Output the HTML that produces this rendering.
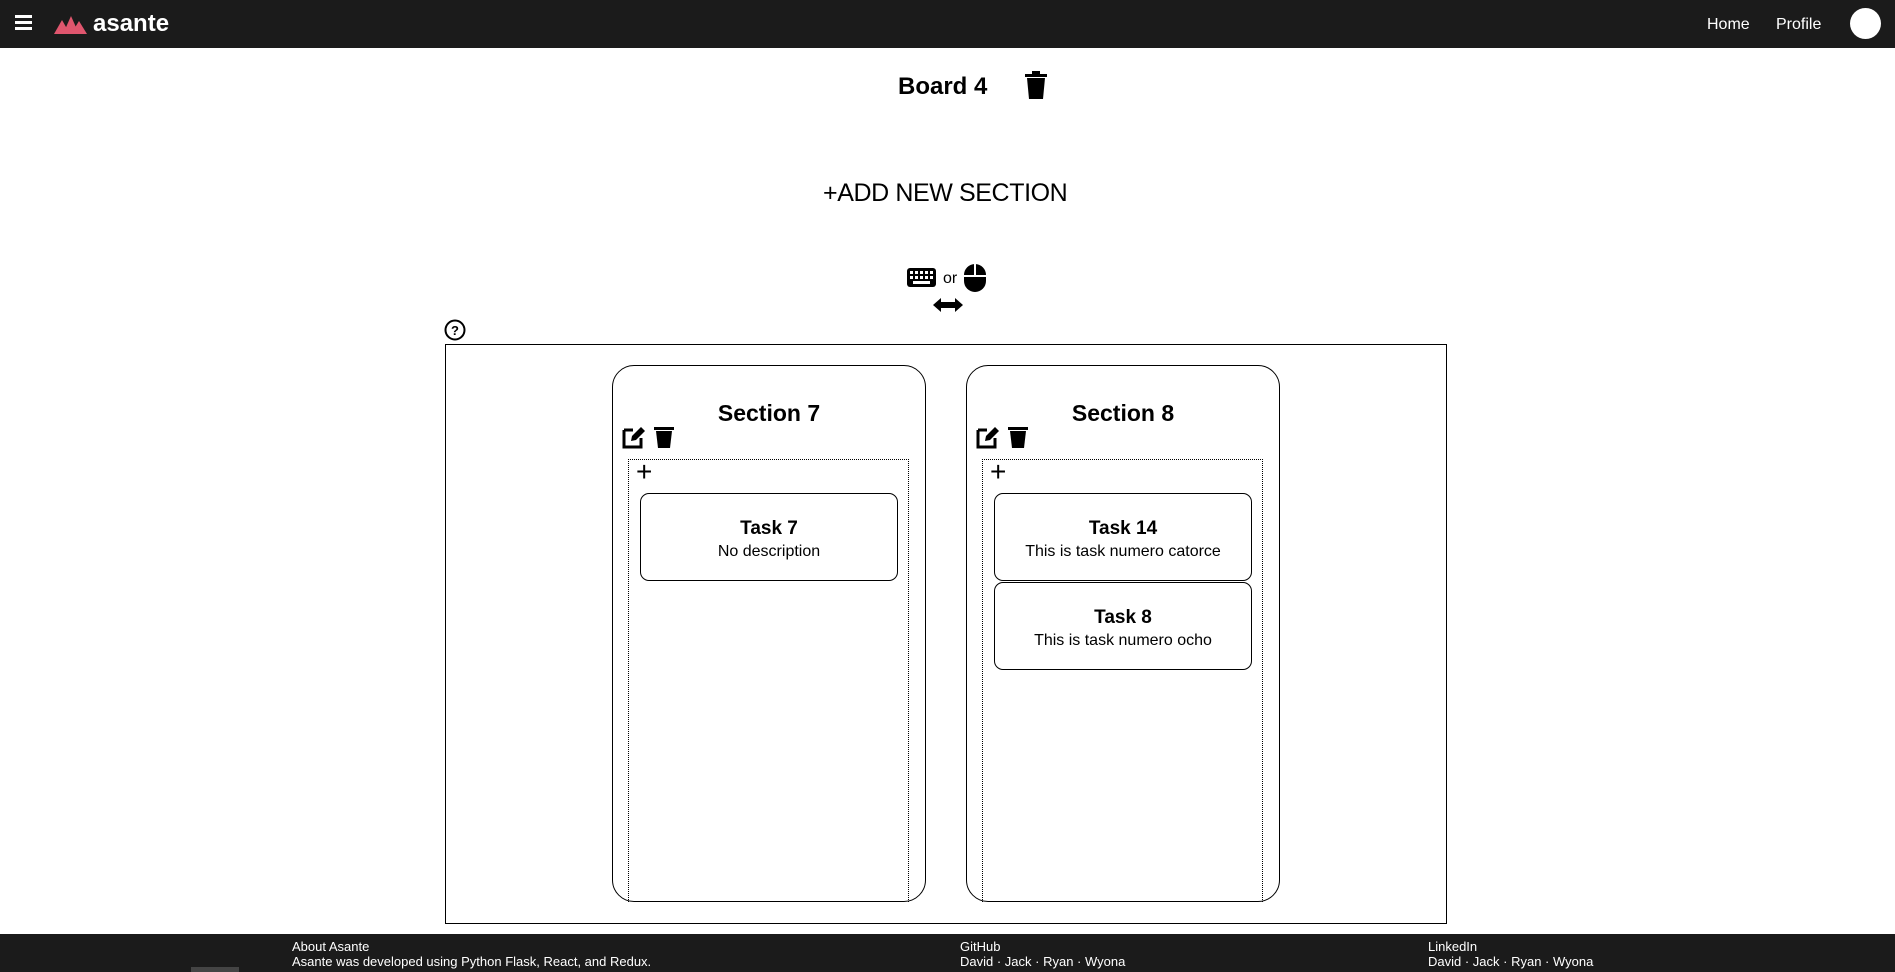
<!DOCTYPE html>
<html><head><meta charset="utf-8"><style>
*{margin:0;padding:0;box-sizing:border-box}
body{width:1895px;height:972px;position:relative;background:#fff;font-family:"Liberation Sans",sans-serif;overflow:hidden;color:#000}
.a{position:absolute}
.nav{left:0;top:0;width:1895px;height:48px;background:#1b1b1b}
.foot{left:0;top:934px;width:1895px;height:38px;background:#1b1b1b;color:#fff;font-size:13px;line-height:15px}
.sec{border:1px solid #000;border-radius:22px;width:314px;height:537px;top:365px}
.dot{border:1px dotted #000;border-bottom:none;width:281px;height:443px;top:459px}
.card{border:1px solid #000;border-radius:9px;width:258px;height:88px;text-align:center}
.card b{display:block;font-size:19px;margin-top:24px}
.card span{display:block;font-size:16px;margin-top:3px}
.st{font-size:23px;font-weight:bold;width:314px;text-align:center;top:400px}
</style></head><body>
<div class="a nav">
 <div class="a" style="left:15px;top:15px;width:17px;height:3px;background:#fff;box-shadow:0 6px 0 #fff,0 12px 0 #fff"></div>
 <svg class="a" style="left:54px;top:15px" width="33" height="19"><polygon points="0,19 8,5 16,19" fill="#e0566e"/><polygon points="9,19 17,1 25,19" fill="#e0566e"/><polygon points="17,19 25,6 33,19" fill="#e0566e"/></svg>
 <div class="a" style="left:93px;top:10px;color:#fff;font-size:24px;font-weight:bold">asante</div>
 <div class="a" style="left:1707px;top:16px;color:#fff;font-size:16px">Home</div>
 <div class="a" style="left:1776px;top:16px;color:#fff;font-size:16px">Profile</div>
 <div class="a" style="left:1850px;top:8px;width:31px;height:31px;border-radius:50%;background:#fff"></div>
</div>
<div class="a" style="left:898px;top:73px;font-size:24px;font-weight:bold">Board 4</div>
<svg class="a" style="left:1025px;top:71px" width="22" height="28"><rect x="0" y="3" width="22" height="3" fill="#000"/><rect x="7" y="0" width="8" height="4" fill="#000"/><path d="M2 7h18l-2 21H4z" fill="#000"/></svg>
<div class="a" style="left:823px;top:179px;font-size:25px;letter-spacing:-0.4px">+ADD NEW SECTION</div>
<svg class="a" style="left:906px;top:267px" width="31" height="21"><rect x="1" y="1" width="29" height="19" rx="3" fill="#000"/><g fill="#fff"><rect x="4" y="4" width="3" height="3"/><rect x="9" y="4" width="3" height="3"/><rect x="14" y="4" width="3" height="3"/><rect x="19" y="4" width="3" height="3"/><rect x="24" y="4" width="3" height="3"/><rect x="4" y="9" width="3" height="3"/><rect x="9" y="9" width="3" height="3"/><rect x="14" y="9" width="3" height="3"/><rect x="19" y="9" width="3" height="3"/><rect x="24" y="9" width="3" height="3"/><rect x="7" y="14" width="17" height="3"/></g></svg>
<div class="a" style="left:943px;top:270px;font-size:16px">or</div>
<svg class="a" style="left:963px;top:263px" width="24" height="30"><rect x="1" y="1" width="22" height="28" rx="11" fill="#000"/><rect x="11" y="1" width="2" height="11" fill="#fff"/><rect x="1" y="12" width="22" height="2" fill="#fff"/></svg>
<svg class="a" style="left:933px;top:298px" width="30" height="14"><path d="M0 7l8-7v4h14V0l8 7-8 7v-4H8v4z" fill="#000"/></svg>
<svg class="a" style="left:444px;top:319px" width="22" height="22"><circle cx="11" cy="11" r="9.5" fill="none" stroke="#000" stroke-width="2"/><text x="11" y="16" font-size="13" font-weight="bold" text-anchor="middle" font-family="Liberation Sans">?</text></svg>
<div class="a" style="left:445px;top:344px;width:1002px;height:580px;border:1px solid #000"></div>

<div class="a sec" style="left:612px"></div>
<div class="a st" style="left:612px">Section 7</div>
<div class="a dot" style="left:628px"></div>
<div class="a" style="left:636px;top:456px;font-size:28px">+</div>
<div class="a card" style="left:640px;top:493px"><b>Task 7</b><span>No description</span></div>

<div class="a sec" style="left:966px"></div>
<div class="a st" style="left:966px">Section 8</div>
<div class="a dot" style="left:982px"></div>
<div class="a" style="left:990px;top:456px;font-size:28px">+</div>
<div class="a card" style="left:994px;top:493px"><b>Task 14</b><span>This is task numero catorce</span></div>
<div class="a card" style="left:994px;top:582px"><b>Task 8</b><span>This is task numero ocho</span></div>

<svg class="a" style="left:622px;top:425px" width="60" height="24"><path d="M2 5h9M2 5v17h17v-9" fill="none" stroke="#000" stroke-width="3"/><path d="M9 16l1-5 9-9 4 4-9 9z" fill="#000"/><rect x="32" y="2" width="20" height="3" fill="#000"/><path d="M34 6h16l-2 17H36z" fill="#000"/></svg>
<svg class="a" style="left:976px;top:425px" width="60" height="24"><path d="M2 5h9M2 5v17h17v-9" fill="none" stroke="#000" stroke-width="3"/><path d="M9 16l1-5 9-9 4 4-9 9z" fill="#000"/><rect x="32" y="2" width="20" height="3" fill="#000"/><path d="M34 6h16l-2 17H36z" fill="#000"/></svg>

<div class="a foot">
 <div class="a" style="left:292px;top:5px">About Asante<br>Asante was developed using Python Flask, React, and Redux.</div>
 <div class="a" style="left:960px;top:5px">GitHub<br>David · Jack · Ryan · Wyona</div>
 <div class="a" style="left:1428px;top:5px">LinkedIn<br>David · Jack · Ryan · Wyona</div>
 <div class="a" style="left:191px;top:33px;width:48px;height:5px;background:#444"></div>
</div>
</body></html>
